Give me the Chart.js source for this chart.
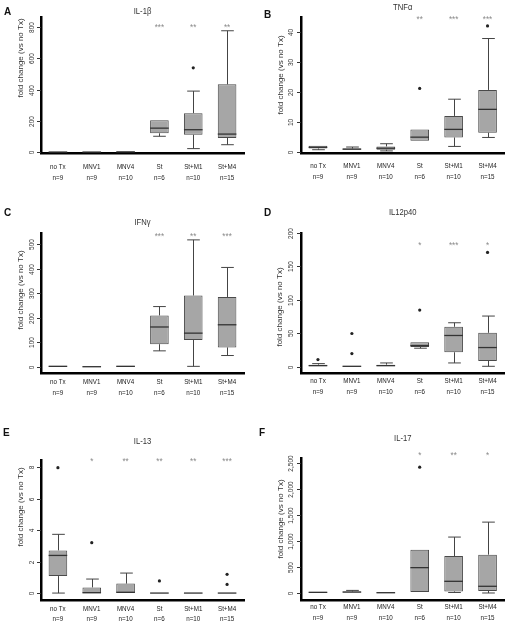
<!DOCTYPE html>
<html>
<head>
<meta charset="utf-8">
<script src="https://cdn.jsdelivr.net/npm/chart.js@4.4.1/dist/chart.umd.min.js"></script>
<style>
  body { margin: 0; background: #fff; width: 512px; height: 627px; position: relative; overflow: hidden; }
  .panel { position: absolute; width: 256px; }
</style>
</head>
<body>
<div class="panel" style="left:0;top:0;height:200px"><canvas id="cA"></canvas></div>
<div class="panel" style="left:256px;top:0;height:200px"><canvas id="cB"></canvas></div>
<div class="panel" style="left:0;top:200px;height:210px"><canvas id="cC"></canvas></div>
<div class="panel" style="left:256px;top:200px;height:210px"><canvas id="cD"></canvas></div>
<div class="panel" style="left:0;top:410px;height:217px"><canvas id="cE"></canvas></div>
<div class="panel" style="left:256px;top:410px;height:217px"><canvas id="cF"></canvas></div>
<script>
const categories = ['no Tx', 'MNV1', 'MNV4', 'St', 'St+M1', 'St+M4'];
const nCounts = [9, 9, 10, 6, 10, 15];

// each box row: [min, q1, median, q3, max]
// outliers: [group index, value]

// A - IL-1β
const il1bBoxes = [[0, 0.5, 1, 3, 4], [0, 0.5, 1, 2, 3], [0, 1, 2, 4, 6],
  [102, 121, 154, 204, 206], [23, 112, 144, 250, 391], [48, 91, 116, 434, 777]];
const il1bOutliers = [[4, 540]];
const il1bStars = ['', '', '', '***', '**', '**'];
const il1bTicks = [0, 200, 400, 600, 800];

// B - TNFα
const tnfBoxes = [[0.6, 1.0, 1.4, 1.9, 2.1], [0.4, 0.6, 0.8, 1.0, 1.5], [0.2, 0.6, 1.1, 1.7, 2.6],
  [3.5, 3.6, 4.8, 7.4, 7.5], [1.7, 4.7, 7.4, 11.9, 17.5], [4.7, 6.3, 14.1, 20.6, 37.8]];
const tnfOutliers = [[3, 21.1], [5, 42]];
const tnfStars = ['', '', '', '**', '***', '***'];
const tnfTicks = [0, 10, 20, 30, 40];

// C - IFNγ
const ifngBoxes = [[0, 1, 3, 5, 7], [0, 0.5, 1.5, 3, 4], [0, 1, 3, 5, 7],
  [66, 93, 163, 210, 246], [3, 110, 138, 291, 517], [47, 80, 172, 285, 405]];
const ifngOutliers = [];
const ifngStars = ['', '', '', '***', '**', '***'];
const ifngTicks = [0, 100, 200, 300, 400, 500];

// D - IL12p40
const il12Boxes = [[0, 1, 2, 3.5, 5], [0, 0.5, 1, 1.5, 2], [0, 1, 2, 3.5, 6],
  [28, 30, 32, 37, 38], [6, 22, 47, 60, 66], [1, 9, 29, 51, 76]];
const il12Outliers = [[0, 11], [1, 50], [1, 20], [3, 85], [5, 171]];
const il12Stars = ['', '', '', '*', '***', '*'];
const il12Ticks = [0, 50, 100, 150, 200];

// E - IL-13
const il13Boxes = [[0, 1.08, 2.39, 2.71, 3.73], [0, 0, 0.02, 0.36, 0.89], [0, 0, 0.05, 0.6, 1.27],
  [0, 0, 0, 0, 0], [0, 0, 0, 0, 0], [0, 0, 0, 0, 0]];
const il13Outliers = [[0, 7.96], [1, 3.2], [3, 0.77], [5, 1.19], [5, 0.55]];
const il13Stars = ['', '*', '**', '**', '**', '***'];
const il13Ticks = [0, 2, 4, 6, 8];

// F - IL-17
const il17Boxes = [[0, 5, 12, 22, 30], [0, 8, 18, 30, 50], [0, 0, 5, 12, 20],
  [20, 20, 488, 834, 834], [10, 30, 225, 712, 1077], [0, 38, 129, 738, 1365]];
const il17Outliers = [[3, 2423]];
const il17Stars = ['', '', '', '*', '**', '*'];
const il17Ticks = [0, 500, 1000, 1500, 2000, 2500];

const FONT = '"Liberation Sans", Arial, sans-serif';

function squished(ctx, text, x, y, sx) {
  ctx.save();
  ctx.translate(x, y);
  ctx.scale(sx, 1);
  ctx.fillText(text, 0, 0);
  ctx.restore();
}

function drawPanel(id, p) {
  const whiskers = {
    id: 'whiskers',
    afterDatasetsDraw(chart) {
      const ctx = chart.ctx, y = chart.scales.y;
      const bars = chart.getDatasetMeta(0).data;
      ctx.save();
      ctx.strokeStyle = '#444';
      p.boxes.forEach((b, i) => {
        const bar = bars[i];
        const cx = Math.round(bar.x) + 0.5, half = bar.width / 2, cap = bar.width * 0.34;
        const [mn, q1, md, q3, mx] = b.map(v => y.getPixelForValue(v));
        ctx.lineWidth = 1;
        ctx.beginPath();
        if (q3 - mx > 1) {
          ctx.moveTo(cx, q3); ctx.lineTo(cx, mx);
          ctx.moveTo(cx - cap, mx); ctx.lineTo(cx + cap, mx);
        }
        if (mn - q1 > 1) {
          ctx.moveTo(cx, q1); ctx.lineTo(cx, mn);
          ctx.moveTo(cx - cap, mn); ctx.lineTo(cx + cap, mn);
        }
        ctx.stroke();
        ctx.lineWidth = 1.3;
        ctx.strokeStyle = '#333';
        ctx.beginPath();
        ctx.moveTo(bar.x - half, md); ctx.lineTo(bar.x + half, md);
        ctx.stroke();
        ctx.strokeStyle = '#444';
      });
      ctx.restore();
    }
  };

  const panelText = {
    id: 'panelText',
    afterDraw(chart) {
      const ctx = chart.ctx, area = chart.chartArea;
      const xs = chart.scales.x, ys = chart.scales.y;
      ctx.save();
      // panel letter
      ctx.fillStyle = '#111';
      ctx.font = 'bold 10px ' + FONT;
      ctx.textAlign = 'left';
      ctx.textBaseline = 'middle';
      ctx.fillText(p.letter, p.letterX, p.letterY);
      // title
      ctx.fillStyle = '#333';
      ctx.font = '9px ' + FONT;
      ctx.textAlign = 'center';
      squished(ctx, p.title, (area.left + area.right) / 2, p.titleY, 0.85);
      // y title
      ctx.save();
      ctx.translate(p.yTitleX, p.yTitleY);
      ctx.rotate(-Math.PI / 2);
      ctx.font = '8px ' + FONT;
      ctx.fillText('fold change (vs no Tx)', 0, 0);
      ctx.restore();
      // y ticks
      ctx.strokeStyle = '#333';
      ctx.lineWidth = 1;
      ctx.font = '6.5px ' + FONT;
      p.ticks.forEach(v => {
        const py = Math.round(ys.getPixelForValue(v)) + 0.5;
        ctx.beginPath();
        ctx.moveTo(area.left - 4, py); ctx.lineTo(area.left, py);
        ctx.stroke();
        ctx.save();
        ctx.translate(p.tickX, py);
        ctx.rotate(-Math.PI / 2);
        ctx.fillText(v.toLocaleString('en-US'), 0, 0);
        ctx.restore();
      });
      // category labels
      ctx.fillStyle = '#222';
      ctx.font = '8px ' + FONT;
      categories.forEach((c, i) => {
        const px = xs.getPixelForValue(i);
        squished(ctx, c, px, area.bottom + p.labelGap, 0.78);
        squished(ctx, 'n=' + nCounts[i], px, area.bottom + p.labelGap + 10.6, 0.78);
      });
      // significance stars
      ctx.fillStyle = '#8a8a8a';
      ctx.font = '9px ' + FONT;
      p.stars.forEach((s, i) => {
        if (!s) return;
        squished(ctx, s, xs.getPixelForValue(i), ys.getPixelForValue(p.starY) + 2, 0.9);
      });
      ctx.restore();
    }
  };

  new Chart(document.getElementById(id), {
    type: 'bar',
    data: {
      labels: categories,
      datasets: [
        {
          data: p.boxes.map(b => [b[1], b[3]]),
          backgroundColor: '#a6a6a6',
          borderColor: '#4a4a4a',
          borderWidth: 1,
          borderSkipped: false,
          barPercentage: 0.55,
          categoryPercentage: 1
        },
        {
          type: 'line',
          data: p.outliers.map(([i, v]) => ({ x: categories[i], y: v })),
          showLine: false,
          pointRadius: 1.6,
          pointBackgroundColor: '#222',
          pointBorderWidth: 0
        }
      ]
    },
    options: {
      responsive: true,
      maintainAspectRatio: false,
      animation: false,
      events: [],
      layout: { padding: { left: 0, right: 256 - p.R, top: p.T, bottom: 0 } },
      plugins: { legend: { display: false }, tooltip: { enabled: false } },
      scales: {
        x: {
          ticks: { display: false },
          grid: { display: false, drawTicks: false },
          border: { color: '#000', width: 2.5 },
          afterFit: s => { s.height = p.H - p.B; }
        },
        y: {
          min: p.yMin,
          max: p.yMax,
          afterBuildTicks: s => { s.ticks = p.ticks.map(v => ({ value: v })); },
          ticks: { display: false },
          grid: { display: false, drawTicks: false },
          border: { color: '#000', width: 2.5 },
          afterFit: s => { s.width = p.L; }
        }
      }
    },
    plugins: [whiskers, panelText]
  });
}

drawPanel('cA', {
  boxes: il1bBoxes, outliers: il1bOutliers, stars: il1bStars, ticks: il1bTicks,
  title: 'IL-1β', letter: 'A', letterX: 4, letterY: 12, titleY: 12,
  H: 200, L: 41, R: 244, T: 17, B: 153, yMin: -5, yMax: 865, starY: 810,
  yTitleX: 21, yTitleY: 58, tickX: 32, labelGap: 13.7
});
drawPanel('cB', {
  boxes: tnfBoxes, outliers: tnfOutliers, stars: tnfStars, ticks: tnfTicks,
  title: 'TNFα', letter: 'B', letterX: 8, letterY: 15, titleY: 8,
  H: 200, L: 45, R: 248.5, T: 17, B: 153, yMin: -0.5, yMax: 45, starY: 44.7,
  yTitleX: 25, yTitleY: 75, tickX: 35.5, labelGap: 12.7
});
drawPanel('cC', {
  boxes: ifngBoxes, outliers: ifngOutliers, stars: ifngStars, ticks: ifngTicks,
  title: 'IFNγ', letter: 'C', letterX: 4, letterY: 13, titleY: 23,
  H: 210, L: 41, R: 244, T: 33, B: 173, yMin: -24, yMax: 545, starY: 538,
  yTitleX: 21, yTitleY: 90, tickX: 32, labelGap: 8.7
});
drawPanel('cD', {
  boxes: il12Boxes, outliers: il12Outliers, stars: il12Stars, ticks: il12Ticks,
  title: 'IL12p40', letter: 'D', letterX: 8, letterY: 13, titleY: 13,
  H: 210, L: 45, R: 248.5, T: 33, B: 173, yMin: -9, yMax: 200, starY: 184,
  yTitleX: 24, yTitleY: 107, tickX: 35.5, labelGap: 8
});
drawPanel('cE', {
  boxes: il13Boxes, outliers: il13Outliers, stars: il13Stars, ticks: il13Ticks,
  title: 'IL-13', letter: 'E', letterX: 3, letterY: 23, titleY: 32,
  H: 217, L: 41, R: 244, T: 50, B: 190, yMin: -0.44, yMax: 8.45, starY: 8.5,
  yTitleX: 21, yTitleY: 97, tickX: 32, labelGap: 8.3
});
drawPanel('cF', {
  boxes: il17Boxes, outliers: il17Outliers, stars: il17Stars, ticks: il17Ticks,
  title: 'IL-17', letter: 'F', letterX: 3, letterY: 23, titleY: 29,
  H: 217, L: 45, R: 248.5, T: 48, B: 190, yMin: -135, yMax: 2600, starY: 2690,
  yTitleX: 25, yTitleY: 109, tickX: 35.5, labelGap: 6.7
});
</script>
</body>
</html>
